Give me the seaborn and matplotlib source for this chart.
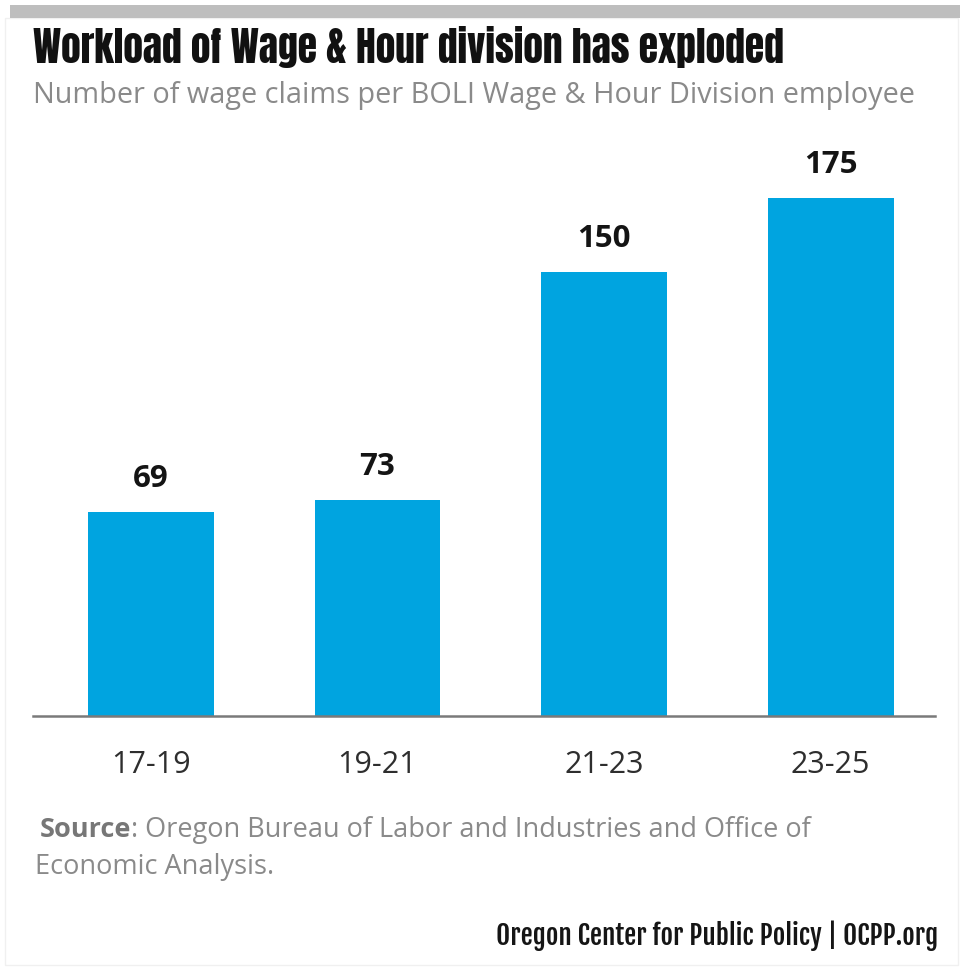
import matplotlib
matplotlib.use("Agg")
import matplotlib.pyplot as plt
import seaborn as sns
import pandas as pd
from matplotlib.patches import Rectangle

periods = ["17-19", "19-21", "21-23", "23-25"]
claims_per_employee = [69, 73, 150, 175]

title = "Workload of Wage & Hour division has exploded"
subtitle = "Number of wage claims per BOLI Wage & Hour Division employee"
source_bold = "Source"
source_rest = ": Oregon Bureau of Labor and Industries and Office of"
source_line2 = "Economic Analysis."
footer = "Oregon Center for Public Policy | OCPP.org"

df = pd.DataFrame({"period": periods, "value": claims_per_employee})

sns.set_theme(style="white")
SANS = ["Open Sans", "DejaVu Sans"]
plt.rcParams["font.family"] = SANS

W, H = 960, 969
fig = plt.figure(figsize=(W / 100, H / 100), dpi=100)
fig.patch.set_facecolor("white")


def fx(px):
    return px / W


def fy(py):
    return 1 - py / H


renderer = fig.canvas.get_renderer()


def fit_width(t, target_px):
    fs = t.get_fontsize()
    w = t.get_window_extent(renderer=renderer).width
    t.set_fontsize(fs * target_px / w)
    return t


# axes placement
x_left, x_right = 33, 935
y_base, y_top = 716, 140
ax = fig.add_axes([fx(x_left), fy(y_base), fx(x_right - x_left), (y_base - y_top) / H])

sns.barplot(data=df, x="period", y="value", color="#00A4E0", width=0.555,
            saturation=1, ax=ax, edgecolor="none")

ax.set_xlim(-0.52, 3.46)
ax.set_ylim(0, (y_base - y_top) / 2.96)
ax.set_xlabel("")
ax.set_ylabel("")
ax.set_yticks([])
for s in ["top", "right", "left"]:
    ax.spines[s].set_visible(False)
ax.spines["bottom"].set_color("#7A7A7A")
ax.spines["bottom"].set_linewidth(1.8)
ax.tick_params(axis="x", length=0, pad=41, labelsize=22, labelcolor="#2E2E2E")
for lbl in ax.get_xticklabels():
    lbl.set_va("baseline")

for i, v in enumerate(claims_per_employee):
    ax.annotate(f"{v}", (i, v), xytext=(0, 18), textcoords="offset points",
                ha="center", va="baseline", fontsize=22.5, fontweight="bold",
                color="#141414")

# top gray band and faint frame
fig.patches.append(Rectangle((fx(5), fy(965)), fx(953), (965 - 18) / H, transform=fig.transFigure,
                             facecolor="none", edgecolor="#F0F0F0", linewidth=1.0))
fig.patches.append(Rectangle((fx(10), fy(18)), fx(950), 13 / H, transform=fig.transFigure,
                             facecolor="#BEBEBE", edgecolor="none"))

t = fig.text(fx(33), fy(63), title, fontsize=30, family=["Anton", "DejaVu Sans"],
             color="#111111", ha="left", va="baseline")
fit_width(t, 752)

t = fig.text(fx(33), fy(103), subtitle, fontsize=20, color="#8A8A8A", ha="left",
             va="baseline", family=SANS)
fit_width(t, 882)

t1 = fig.text(fx(40), fy(837), source_bold, fontsize=19.5, fontweight="bold", color="#777777",
              ha="left", va="baseline", family=SANS)
bb = t1.get_window_extent(renderer=renderer)
t2 = fig.text(bb.x1 / W, fy(837), source_rest, fontsize=19.5, color="#8A8A8A",
              ha="left", va="baseline", family=SANS)
fig.text(fx(35), fy(874), source_line2, fontsize=19.5, color="#8A8A8A",
         ha="left", va="baseline", family=SANS)

t = fig.text(fx(938), fy(945), footer, fontsize=20, family=["Fjalla One", "DejaVu Sans"],
             color="#151515", ha="right", va="baseline")
fit_width(t, 441)

fig.savefig("out.png", dpi=100, facecolor="white")
